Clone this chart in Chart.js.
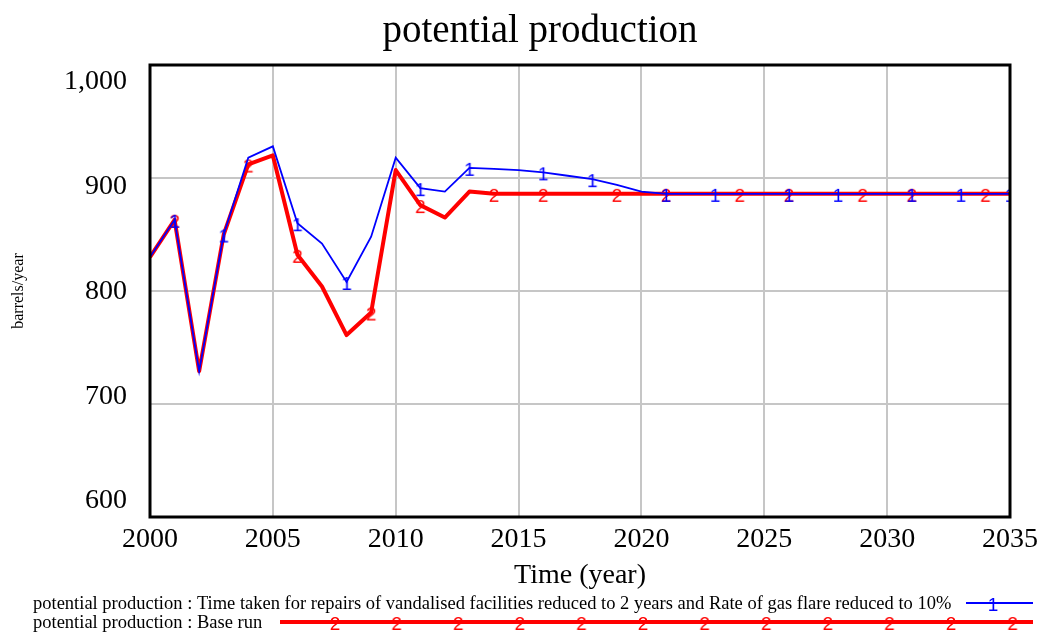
<!DOCTYPE html>
<html>
<head>
<meta charset="utf-8">
<script src="https://cdn.jsdelivr.net/npm/chart.js@4/dist/chart.umd.min.js"></script>
<style>
	html, body { margin: 0; padding: 0; background: #fff; }
	#wrap { width: 1044px; height: 635px; }
</style>
</head>
<body>
<div id="wrap"><canvas id="myCanvas"></canvas></div>
<script>
// years on the time axis
const years = [
	2000, 2001, 2002, 2003, 2004, 2005, 2006, 2007, 2008, 2009,
	2010, 2011, 2012, 2013, 2014, 2015, 2016, 2017, 2018, 2019,
	2020, 2021, 2022, 2023, 2024, 2025, 2026, 2027, 2028, 2029,
	2030, 2031, 2032, 2033, 2034, 2035,
];

// run 1: repairs 2 years + gas flare 10%
let scenarioList = [
	830, 863, 729, 850, 918, 928, 860, 842, 808, 848,
	918, 891, 888, 909, 908, 907, 905, 902, 899, 894,
	888, 886, 886, 886, 886, 886, 886, 886, 886, 886,
	886, 886, 886, 886, 886, 886,
];

// run 2: base run
let baseList = [
	830, 863, 729, 850, 912, 920, 832, 804, 761, 781,
	907, 876, 865, 888, 886, 886, 886, 886, 886, 886,
	886, 886, 886, 886, 886, 886, 886, 886, 886, 886,
	886, 886, 886, 886, 886, 886,
];

// years where the run number is printed on the line
const scenarioMarks = [2001, 2003, 2006, 2008, 2011, 2013, 2016, 2018, 2021, 2023, 2026, 2028, 2031, 2033, 2035];
const baseMarks = [2001, 2004, 2006, 2009, 2011, 2014, 2016, 2019, 2021, 2024, 2026, 2029, 2031, 2034];

const yTicks = [600, 700, 800, 900, 1000];

const BLUE = "#0000ff";
const RED = "#ff0000";
const SERIF = '"Liberation Serif", "Times New Roman", serif';

function glyph(ch, color) {
	const c = document.createElement("canvas");
	c.width = 20;
	c.height = 26;
	const g = c.getContext("2d");
	g.fillStyle = color;
	g.font = '19px "Liberation Sans", Arial, sans-serif';
	g.textAlign = "center";
	g.textBaseline = "middle";
	g.fillText(ch, 10, 16);
	return c;
}
const mark1 = glyph("1", BLUE);
const mark2 = glyph("2", RED);

const framePlugin = {
	id: "frame",
	afterDatasetsDraw(chart) {
		const a = chart.chartArea;
		const c = chart.ctx;
		c.save();
		c.strokeStyle = "#000";
		c.lineWidth = 3;
		c.strokeRect(a.left, a.top, a.right - a.left, a.bottom - a.top);
		c.restore();
	},
};

const extrasPlugin = {
	id: "extras",
	afterDraw(chart) {
		const c = chart.ctx;
		c.save();
		// title
		c.fillStyle = "#000";
		c.font = "39px " + SERIF;
		c.textAlign = "center";
		c.textBaseline = "alphabetic";
		c.fillText("potential production", 540, 42);

		// legend
		c.textAlign = "left";
		c.font = "18.5px " + SERIF;
		c.fillText(chart.data.datasets[0].label, 33, 609);
		c.fillText(chart.data.datasets[1].label, 33, 628);

		c.strokeStyle = BLUE;
		c.lineWidth = 2;
		c.beginPath();
		c.moveTo(966, 603);
		c.lineTo(1033, 603);
		c.stroke();
		c.drawImage(mark1, 993 - 10, 603 - 13);

		c.strokeStyle = RED;
		c.lineWidth = 4;
		c.beginPath();
		c.moveTo(280, 622);
		c.lineTo(1033, 622);
		c.stroke();
		for (let x = 335; x < 1030; x += 61.6) {
			c.drawImage(mark2, x - 10, 622 - 13);
		}
		c.restore();
	},
};

const ctx = document.getElementById("myCanvas").getContext("2d");
const myChart = new Chart(ctx, {
	type: "line",
	data: {
		datasets: [
			{
				label: "potential production : Time taken for repairs of vandalised facilities reduced to 2 years and Rate of gas flare reduced to 10%",
				data: years.map((x, i) => ({ x: x, y: scenarioList[i] })),
				borderColor: BLUE,
				backgroundColor: BLUE,
				borderWidth: 1.8,
				pointStyle: mark1,
				pointRadius: (c) => (scenarioMarks.includes(years[c.dataIndex]) ? 6 : 0),
				tension: 0,
				yAxisID: "y",
			},
			{
				label: "potential production : Base run",
				data: years.map((x, i) => ({ x: x, y: baseList[i] })),
				borderColor: RED,
				backgroundColor: RED,
				borderWidth: 4,
				borderJoinStyle: "round",
				pointStyle: mark2,
				pointRadius: (c) => (baseMarks.includes(years[c.dataIndex]) ? 6 : 0),
				tension: 0,
				yAxisID: "y",
			},
		],
	},
	options: {
		responsive: true,
		maintainAspectRatio: false,
		animation: false,
		layout: { padding: { top: 65, right: 32, bottom: 43, left: 0 } },
		plugins: {
			legend: { display: false },
			title: { display: false },
			tooltip: { enabled: false },
		},
		scales: {
			x: {
				type: "linear",
				min: 2000,
				max: 2035,
				afterFit: (s) => { s.height = 75; },
				border: { display: false },
				grid: { color: "#c6c6c6", lineWidth: 2, drawTicks: false },
				ticks: {
					stepSize: 5,
					padding: 6,
					color: "#000",
					font: { family: SERIF, size: 28 },
					callback: (v) => String(v),
				},
				title: {
					display: true,
					text: "Time (year)",
					color: "#000",
					font: { family: SERIF, size: 28 },
					padding: { top: 0, bottom: 0 },
				},
			},
			y: {
				type: "linear",
				position: "left",
				min: 600,
				max: 1000,
				afterFit: (s) => { s.width = 0; },
				border: { display: false },
				grid: { color: "#c6c6c6", lineWidth: 2, drawTicks: false },
				ticks: { stepSize: 100, display: false },
			},
			yl: {
				type: "linear",
				position: "left",
				min: 584.7,
				max: 1016.2,
				afterFit: (s) => { s.width = 150; },
				afterBuildTicks: (s) => { s.ticks = yTicks.map((v) => ({ value: v })); },
				border: { display: false },
				grid: { display: false, drawTicks: false },
				ticks: {
					padding: 23,
					color: "#000",
					font: { family: SERIF, size: 28 },
				},
				title: {
					display: true,
					text: "barrels/year",
					color: "#000",
					font: { family: SERIF, size: 16 },
					padding: { top: 9, bottom: 0 },
				},
			},
		},
	},
	plugins: [framePlugin, extrasPlugin],
});
</script>
</body>
</html>
